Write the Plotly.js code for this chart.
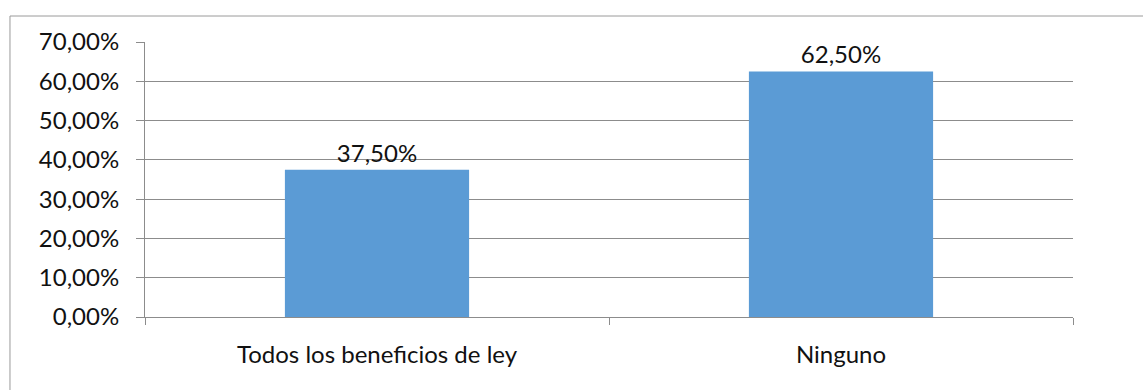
<!DOCTYPE html>
<html>
<head>
<meta charset="utf-8">
<script src="https://cdn.plot.ly/plotly-3.0.1.min.js"></script>
<style>
  html, body { margin: 0; padding: 0; background: #fff; }
  #chart { width: 1143px; height: 390px; }
</style>
</head>
<body>
<div id="chart"></div>
<script>
const categories = ["Todos los beneficios de ley", "Ninguno"];
const values = [0.375, 0.625];
const yTickValues = [0, 0.1, 0.2, 0.3, 0.4, 0.5, 0.6, 0.7];

const FONT = "Lato, 'Open Sans', sans-serif";
const TXT = '#111';

const trace = {
  type: 'bar',
  x: categories,
  y: values,
  marker: { color: '#5B9BD5' },
  width: 0.397,
  text: values,
  texttemplate: '%{y:.2%}',
  textposition: 'outside',
  cliponaxis: false,
  textfont: { family: FONT, size: 24, color: TXT },
  hoverinfo: 'none'
};

const layout = {
  width: 1143,
  height: 390,
  margin: { l: 145, r: 70, t: 42, b: 73 },
  paper_bgcolor: '#fff',
  plot_bgcolor: '#fff',
  separators: ',.',
  showlegend: false,
  font: { family: FONT, size: 24, color: TXT },
  xaxis: {
    type: 'category',
    showline: true,
    linecolor: '#8c8c8c',
    linewidth: 1,
    ticks: 'outside',
    tickson: 'boundaries',
    ticklen: 7,
    tickcolor: '#8c8c8c',
    showgrid: false,
    ticklabelstandoff: 16,
    tickfont: { family: FONT, size: 24, color: TXT }
  },
  yaxis: {
    range: [0, 0.7],
    tickvals: yTickValues,
    tickformat: '.2%',
    showline: true,
    linecolor: '#8c8c8c',
    linewidth: 1,
    ticks: 'outside',
    ticklen: 8,
    tickcolor: '#8c8c8c',
    showgrid: true,
    gridcolor: '#8c8c8c',
    gridwidth: 1,
    zeroline: false,
    ticklabelstandoff: 12,
    tickfont: { family: FONT, size: 24, color: TXT }
  },
  shapes: [{
    type: 'rect',
    xref: 'paper', yref: 'paper',
    x0: -0.1455, x1: 1.09,
    y0: -0.31, y1: 1.0945,
    line: { color: '#9a9a9a', width: 1 },
    fillcolor: 'rgba(0,0,0,0)',
    layer: 'below'
  }]
};

Plotly.newPlot('chart', [trace], layout, { staticPlot: true, displayModeBar: false });
</script>
</body>
</html>
